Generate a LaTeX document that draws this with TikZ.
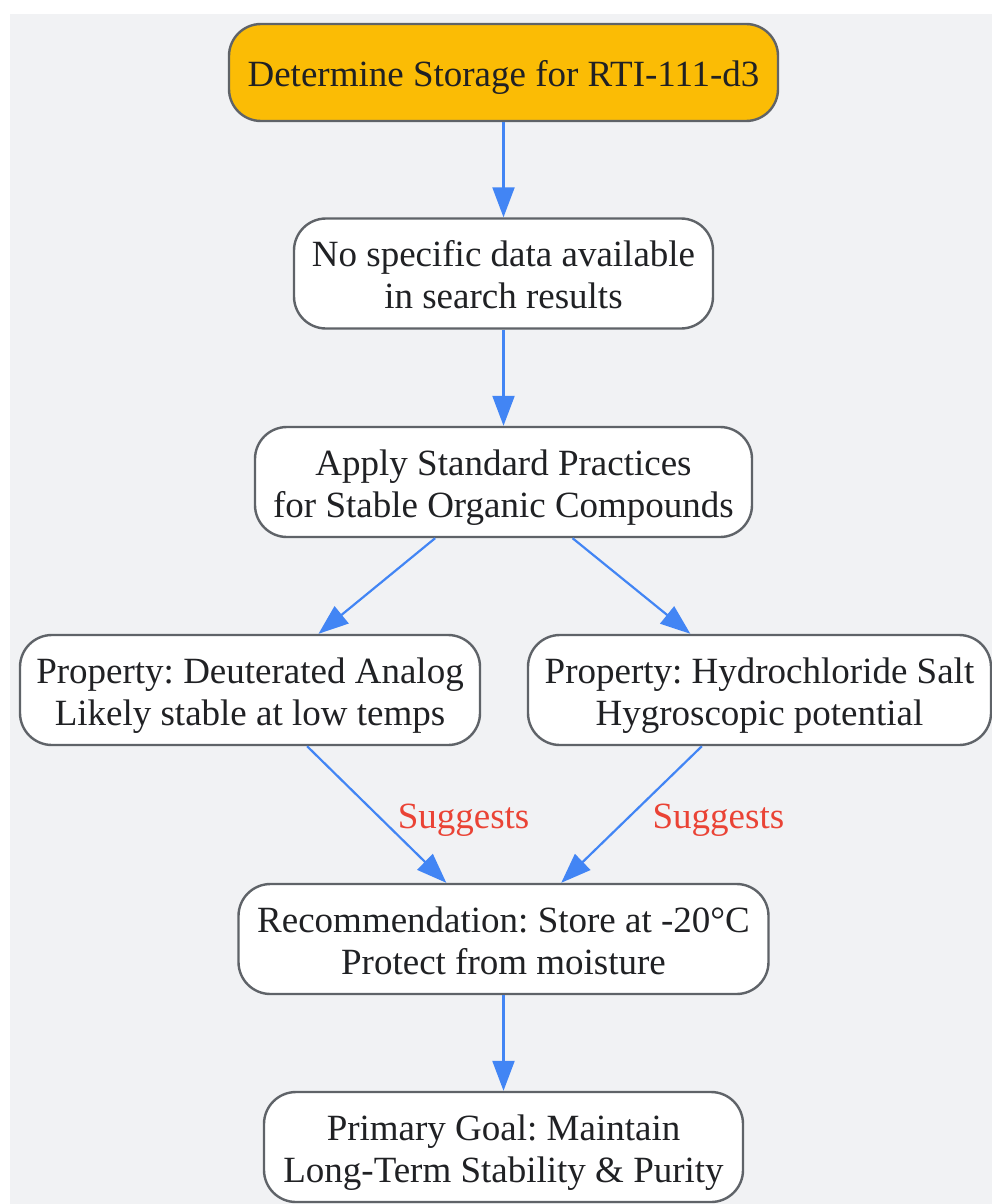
\documentclass[tikz,border=0pt]{standalone}
\usepackage{fontspec}
\setmainfont{Liberation Serif}
\usepackage{xcolor}
\usepackage{tikz}
\usetikzlibrary{positioning,arrows.meta}

\definecolor{bggray}{HTML}{F1F2F4}
\definecolor{amber}{HTML}{FBBC05}
\definecolor{edgeblue}{HTML}{4285F4}
\definecolor{labelred}{HTML}{EA4335}
\definecolor{linegray}{HTML}{5F6368}
\definecolor{textdark}{HTML}{202124}
\frenchspacing

\begin{document}
\begin{tikzpicture}[x=1pt, y=-1pt,
		box/.style={draw=linegray, line width=2.4pt, rounded corners=32pt, fill=white, align=center, inner sep=0pt, text=textdark, font=\fontsize{37}{42}\selectfont, text height=80pt, text depth=10pt, minimum height=110pt},
		arr/.style={draw=edgeblue, line width=2.2pt, -{Triangle[length=30pt,width=22pt]}},
		lbl/.style={text=labelred, font=\fontsize{37}{42}\selectfont, inner sep=0pt}]
						\useasboundingbox (0,0) rectangle (992,1204);
						\fill[bggray] (10,14) rectangle (992,1204);
						\node[box, fill=amber, minimum width=549pt, minimum height=97pt, text height=38pt] (start) at (503.5,72.5) {Determine Storage for RTI-111-d3};
						\node[box, minimum width=419pt] (nodata) at (503.5,273.5) {No specific data available\\in search results};
						\node[box, minimum width=497pt] (apply) at (503.5,482) {Apply Standard Practices\\for Stable Organic Compounds};
						\node[box, minimum width=460pt] (deut) at (250,690) {Property: Deuterated Analog\\Likely stable at low temps};
						\node[box, minimum width=463pt] (salt) at (759.5,690) {Property: Hydrochloride Salt\\Hygroscopic potential};
						\node[box, minimum width=530pt] (rec) at (503.5,939) {Recommendation: Store at -20°C\\Protect from moisture};
						\node[box, minimum width=479pt] (goal) at (503.5,1147) {Primary Goal: Maintain\\Long-Term Stability \& Purity};
						\draw[arr] (start) -- (nodata);
						\draw[arr] (nodata) -- (apply);
						\draw[arr] (apply) -- (deut);
						\draw[arr] (apply) -- (salt);
						\draw[arr] (deut) -- (rec) node [lbl, midway, right=20pt, yshift=-6pt] {Suggests};
						\draw[arr] (salt) -- (rec) node [lbl, midway, right=20pt, yshift=-6pt] {Suggests};
						\draw[arr] (rec) -- (goal);
					\end{tikzpicture}
\end{document}
